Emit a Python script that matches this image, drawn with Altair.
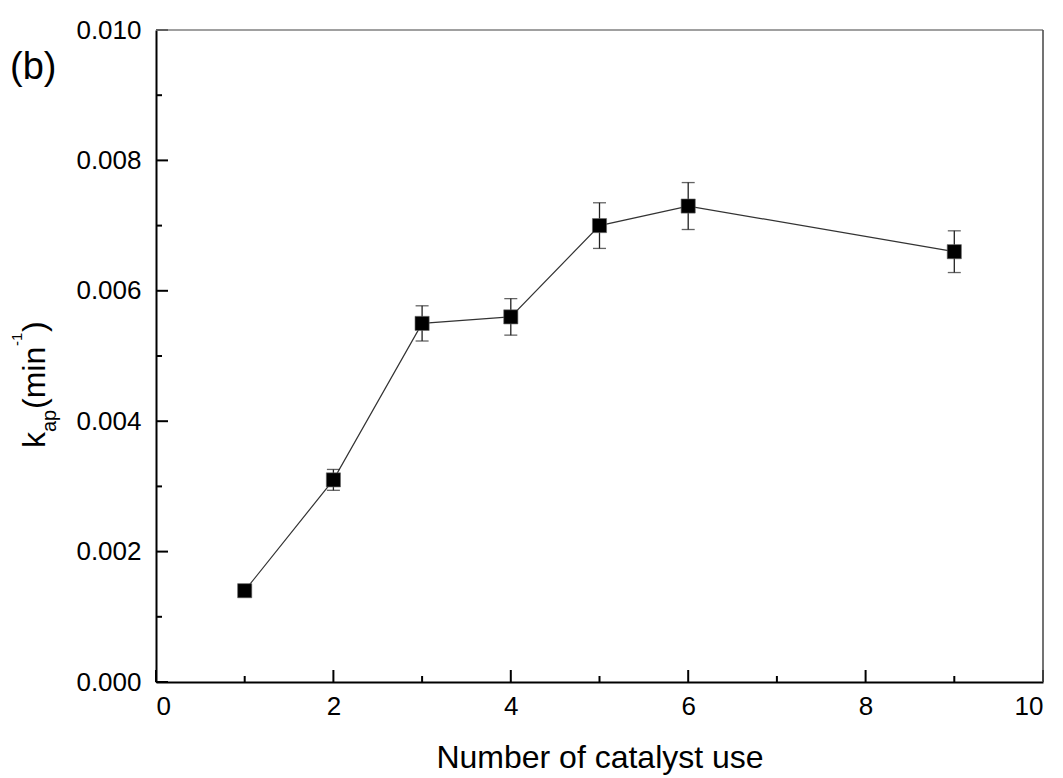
import altair as alt
import pandas as pd

# ---- data ----
x_use = [1, 2, 3, 4, 5, 6, 9]
k_ap = [0.0014, 0.0031, 0.0055, 0.0056, 0.0070, 0.0073, 0.0066]
k_err = [0.00005, 0.00016, 0.00027, 0.00028, 0.00035, 0.00036, 0.00032]

x_major = [0, 2, 4, 6, 8, 10]
x_minor = [1, 3, 5, 7, 9]
y_major = [0.0, 0.002, 0.004, 0.006, 0.008, 0.010]
y_minor = [0.001, 0.003, 0.005, 0.007, 0.009]

W, H = 887, 652
FONT = "Liberation Sans"

df = pd.DataFrame({
    "n": x_use,
    "k": k_ap,
    "lo": [k - e for k, e in zip(k_ap, k_err)],
    "hi": [k + e for k, e in zip(k_ap, k_err)],
})

xs = alt.Scale(domain=[0, 10], nice=False, zero=False)
ys = alt.Scale(domain=[0, 0.01], nice=False, zero=False)

xaxis = alt.Axis(values=x_major, format="d", title="Number of catalyst use",
                 titleFontSize=32, titleFont=FONT, titleFontWeight="normal",
                 titleColor="black", titlePadding=23, labelPadding=11)
yaxis = alt.Axis(values=y_major, format=".3f", title="", labelPadding=15)


def X(field):
    return alt.X(field, scale=xs, axis=xaxis)


def Y(field):
    return alt.Y(field, scale=ys, axis=yaxis)


base = alt.Chart(df)

line = base.mark_line(color="#333333", strokeWidth=1.2).encode(x=X("n:Q"), y=Y("k:Q"))
err = base.mark_rule(color="#222222", strokeWidth=1.3).encode(x=X("n:Q"), y=Y("lo:Q"), y2="hi:Q")
cap_lo = base.mark_tick(orient="horizontal", size=13, thickness=1.3, color="#222222").encode(
    x=X("n:Q"), y=Y("lo:Q"))
cap_hi = base.mark_tick(orient="horizontal", size=13, thickness=1.3, color="#222222").encode(
    x=X("n:Q"), y=Y("hi:Q"))
pts = base.mark_square(size=200, color="black", opacity=1, stroke="#666666", strokeWidth=0.6).encode(
    x=X("n:Q"), y=Y("k:Q"))


# inward ticks
def xticks(vals, length):
    return alt.Chart(pd.DataFrame({"v": vals})).mark_rule(color="black", strokeWidth=2).encode(
        x=X("v:Q"), y=alt.value(H), y2=alt.value(H - length))


def yticks(vals, length):
    return alt.Chart(pd.DataFrame({"v": vals})).mark_rule(color="black", strokeWidth=2).encode(
        y=Y("v:Q"), x=alt.value(0), x2=alt.value(length))


dummy = pd.DataFrame({"a": [0]})
top_frame = alt.Chart(dummy).mark_rule(color="#808080", strokeWidth=1.6).encode(
    x=alt.value(0), x2=alt.value(W), y=alt.value(0))
right_frame = alt.Chart(dummy).mark_rule(color="#505050", strokeWidth=1.6).encode(
    x=alt.value(W), y=alt.value(0), y2=alt.value(H))


def label(txt, size, px, py, angle=None):
    kw = dict(text=txt, font=FONT, fontSize=size, color="black", align="left", baseline="alphabetic")
    if angle is not None:
        kw["angle"] = angle
    return alt.Chart(dummy).mark_text(**kw).encode(x=alt.value(px), y=alt.value(py))


# y-axis title composed of pieces: k_ap (min^-1), rotated
ytitle = [
    label("k", 32, -111, 418, 270),
    label("ap", 20, -100, 402, 270),
    label("(min", 32, -111, 379, 270),
    label("-1", 15, -134, 316, 270),
    label(")", 32, -111, 302, 270),
]
panel = label("(b)", 38, -146, 49)

chart = alt.layer(
    line, err, cap_lo, cap_hi, pts,
    xticks(x_major, 12), xticks(x_minor, 6),
    yticks(y_major, 12), yticks(y_minor, 6),
    top_frame, right_frame,
    *ytitle, panel,
).properties(
    width=W, height=H,
    autosize=alt.AutoSizeParams(type="none"),
    padding={"left": 148, "top": 22, "right": 12, "bottom": 96},
    background="white",
).configure_view(stroke=None).configure_axis(
    domainColor="black", domainWidth=2, ticks=False, grid=False,
    labelFont=FONT, labelFontSize=26, labelColor="black",
)

chart.save("out.html", embed_options={"renderer": "svg", "actions": False})
